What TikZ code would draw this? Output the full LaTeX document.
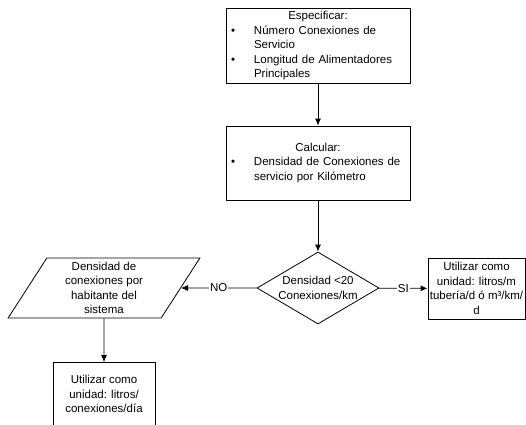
\documentclass[tikz,border=0pt]{standalone}
\usepackage{fontspec}
\setmainfont{Liberation Sans}
\usetikzlibrary{shapes.geometric, arrows.meta}
\tikzset{>={Latex[length=7pt,width=6pt]}}

\newcommand{\bulletline}[1]{\noindent\hangindent=23pt\hangafter=1\hyphenpenalty=10000\makebox[23pt][l]{\textbullet}#1\par}

\begin{document}
\begin{tikzpicture}[x=1pt, y=-1pt, line width=0.8pt]

	\tikzstyle{flow_text} = [font=\fontsize{11.5}{14.5}\selectfont]
	\tikzstyle{step_box} = [flow_text, rectangle, draw=black, minimum width=184pt, text width=174pt, inner xsep=5pt, align=left]
	\tikzstyle{unit_box} = [flow_text, rectangle, draw=black, inner sep=1.5pt, align=center]
	\tikzstyle{decision} = [flow_text, diamond, draw=black, aspect=1.7, inner sep=0pt, minimum width=122pt, minimum height=72pt, align=center]
	\tikzstyle{data_box} = [flow_text, trapezium, draw=black, trapezium left angle=62, trapezium right angle=118, trapezium stretches=true, minimum width=192pt, minimum height=60pt, inner ysep=1pt, align=center]
	\tikzstyle{branch_label} = [flow_text, fill=white, inner sep=1pt]

	\useasboundingbox (0,0) rectangle (526,424);
	\clip (0,0) rectangle (526,424);

%------------------------------------------------------------
	\node[step_box, minimum height=72pt] (spec) at (318,46) {{\centering Especificar:\par}\bulletline{Número Conexiones de Servicio}\bulletline{Longitud de Alimentadores Principales}};

	\node[step_box, minimum height=74pt] (calc) at (318,163) {{\centering Calcular:\par}\bulletline{Densidad de Conexiones de servicio por Kilómetro}};

%------------------------------------------------------------

	\node[decision] (dens) at (318,288) {Densidad <20\\Conexiones/km};

	\node[unit_box, minimum width=97pt, minimum height=61pt] (unit_m) at (476.5,288.5) {Utilizar como\\unidad: litros/m\\tubería/d ó m³/km/\\d};

	\node[data_box] (habit) at (104,288) {Densidad de\\conexiones por\\habitante del\\sistema};

	\node[unit_box, minimum width=102pt, minimum height=63pt] (unit_conn) at (104,394) {Utilizar como\\unidad: litros/\\conexiones/día};

%------------------------------------------------------------

	\draw[->] (spec) -- (calc);
	\draw[->] (calc) -- (dens);
	\draw[->] (dens) -- node[branch_label]{SI} (unit_m);
	\draw[->] (dens) -- node[branch_label]{NO} (habit);
	\draw[->] (habit) -- (unit_conn);

\end{tikzpicture}
\end{document}
